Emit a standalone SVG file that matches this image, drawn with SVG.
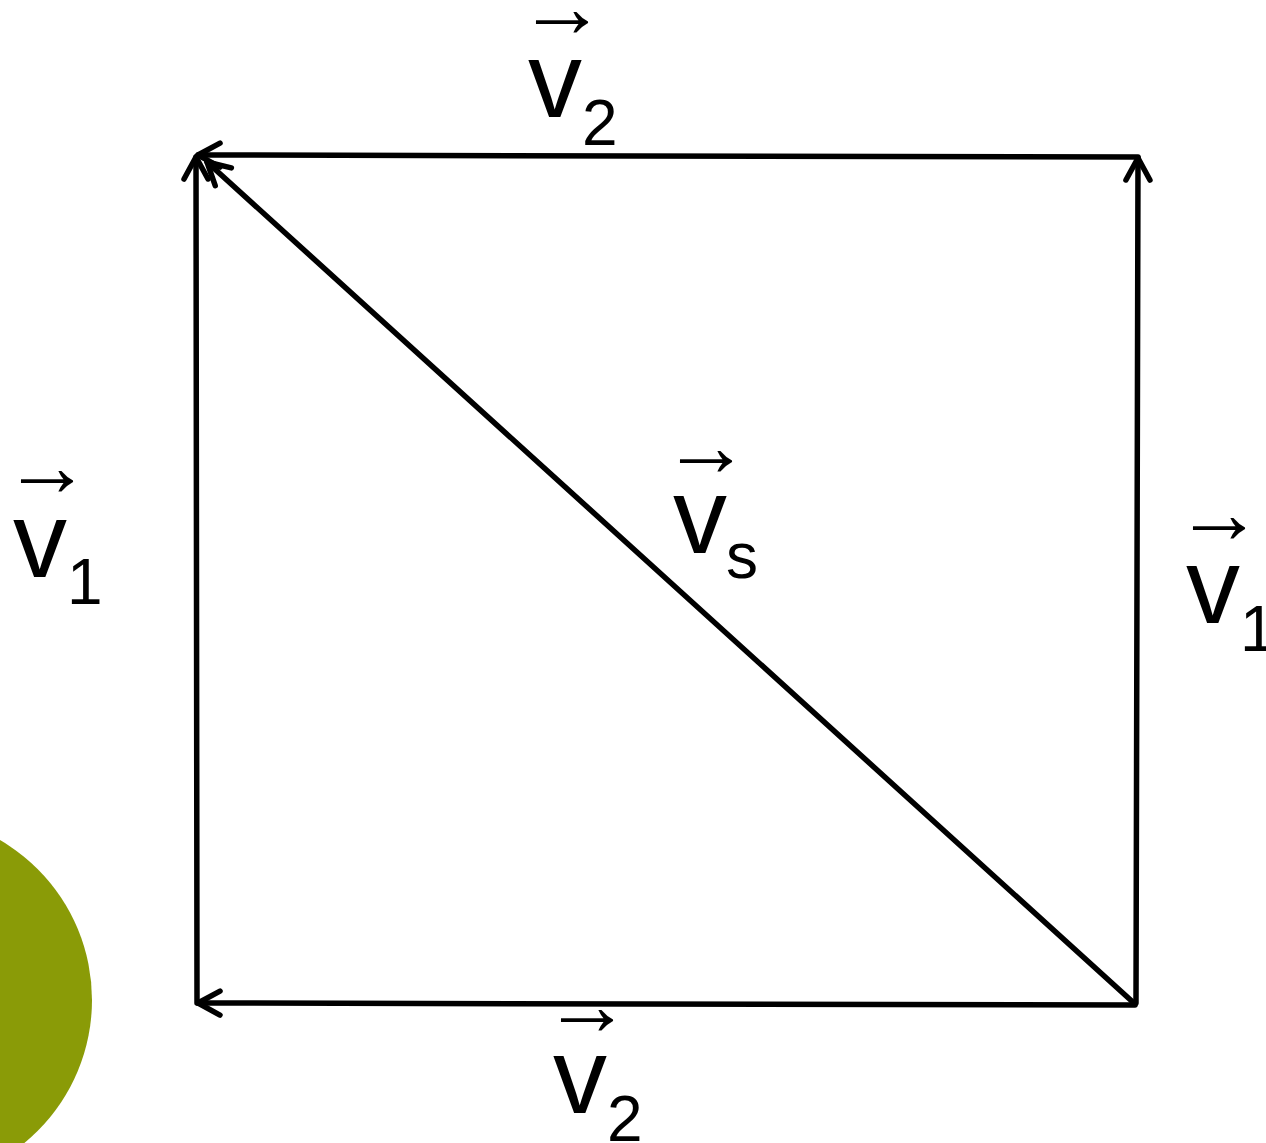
<svg xmlns="http://www.w3.org/2000/svg" width="1266" height="1143" viewBox="0 0 1266 1143">
<style>
.ln{fill:none;stroke:#000;stroke-width:5.5;stroke-linecap:round;marker-end:url(#ah)}
.v{font-family:"Liberation Sans",Arial,sans-serif;font-size:108px;fill:#000}
.sub{font-family:"Liberation Sans",Arial,sans-serif;font-size:64px;fill:#000}
.arr{font-family:"Liberation Serif","Times New Roman",serif;font-size:88px;fill:#000}
</style>
<defs>
<marker id="ah" markerUnits="userSpaceOnUse" markerWidth="40" markerHeight="40" viewBox="-30 -20 40 40" refX="0" refY="0" orient="auto" overflow="visible">
<path d="M-22,-12 L0,0 L-22,12" fill="none" stroke="#000" stroke-width="5.5" stroke-linecap="round" stroke-linejoin="round"/>
</marker>
</defs>
<rect width="1266" height="1143" fill="#fff"/>
<circle id="deco" cx="-93" cy="1000" r="185" fill="#8a9b07"/>
<g id="connectors">
<path class="ln" d="M1138,157 L198,155"/>
<path class="ln" d="M197,1003 L196,157"/>
<path class="ln" d="M1135,1004 L207,162"/>
<path class="ln" d="M1136,1003 L1138,158"/>
<path class="ln" d="M1135,1005 L198,1003"/>
</g>
<g id="label-v2-top">
<text class="arr" x="518" y="37">→</text>
<text class="v" x="528" y="117">v</text>
<text class="sub" x="582" y="145">2</text>
</g>
<g id="label-v1-left">
<text class="arr" x="3" y="496">→</text>
<text class="v" x="13" y="577">v</text>
<text class="sub" x="67" y="604">1</text>
</g>
<g id="label-vs">
<text class="arr" x="662" y="476">→</text>
<text class="v" x="673" y="553">v</text>
<text class="sub" x="726" y="578">s</text>
</g>
<g id="label-v1-right">
<text class="arr" x="1175" y="543">→</text>
<text class="v" x="1186" y="623">v</text>
<text class="sub" x="1240" y="651">1</text>
</g>
<g id="label-v2-bottom">
<text class="arr" x="543" y="1035">→</text>
<text class="v" x="553" y="1113">v</text>
<text class="sub" x="607" y="1141">2</text>
</g>
</svg>
